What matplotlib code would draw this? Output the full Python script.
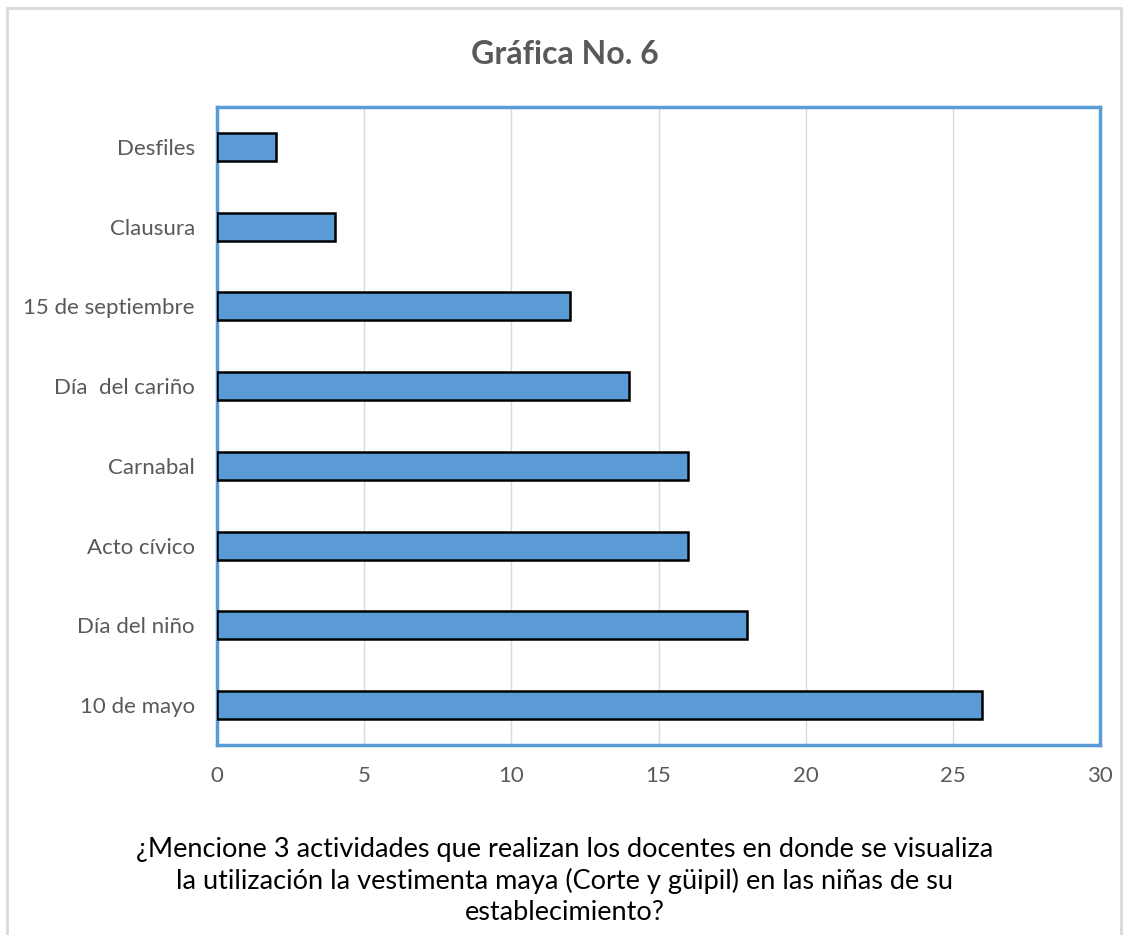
import matplotlib.pyplot as plt
from matplotlib.patches import Rectangle

plt.rcParams['font.family'] = ['Lato', 'DejaVu Sans']

actividades = ['10 de mayo', 'Día del niño', 'Acto cívico', 'Carnabal',
               'Día  del cariño', '15 de septiembre', 'Clausura', 'Desfiles']
valores = [26, 18, 16, 16, 14, 12, 4, 2]
xticks = [0, 5, 10, 15, 20, 25, 30]

fig = plt.figure(figsize=(11.3, 9.35), dpi=100)
ax = fig.add_axes([217 / 1130, 1 - 745 / 935, (1100 - 217) / 1130, (745 - 107) / 935])

ax.barh(range(len(actividades)), valores, height=0.35, color='#5b9bd5',
        edgecolor='black', linewidth=1.8, zorder=3)

ax.set_xlim(0, 30)
ax.set_ylim(-0.5, len(actividades) - 0.5)
ax.set_xticks(xticks)
ax.set_yticks(range(len(actividades)))
ax.set_yticklabels(actividades)
ax.tick_params(axis='both', length=0, colors='#595959', labelsize=16)
ax.tick_params(axis='x', pad=15)
ax.tick_params(axis='y', pad=16)
ax.grid(axis='x', color='#d9d9d9', linewidth=1, zorder=0)
ax.grid(axis='y', visible=False)
for s in ax.spines.values():
    s.set_color('#5b9bd5')
    s.set_linewidth(2.5)

fig.text(0.5, 1 - 55 / 935, 'Gráfica No. 6', ha='center', va='center',
         fontsize=23, fontweight='bold', color='#595959')
fig.text(0.5, 1 - 881 / 935,
         '¿Mencione 3 actividades que realizan los docentes en donde se visualiza\n'
         'la utilización la vestimenta maya (Corte y güipil) en las niñas de su\n'
         'establecimiento?',
         ha='center', va='center', fontsize=19.5, color='black', linespacing=1.28)

fig.patches.append(Rectangle((7 / 1130, -0.05), 1114 / 1130, 1 - 8 / 935 + 0.05,
                             transform=fig.transFigure, fill=False,
                             edgecolor='#d9d9d9', linewidth=2))

fig.savefig('out.png', dpi=100)
